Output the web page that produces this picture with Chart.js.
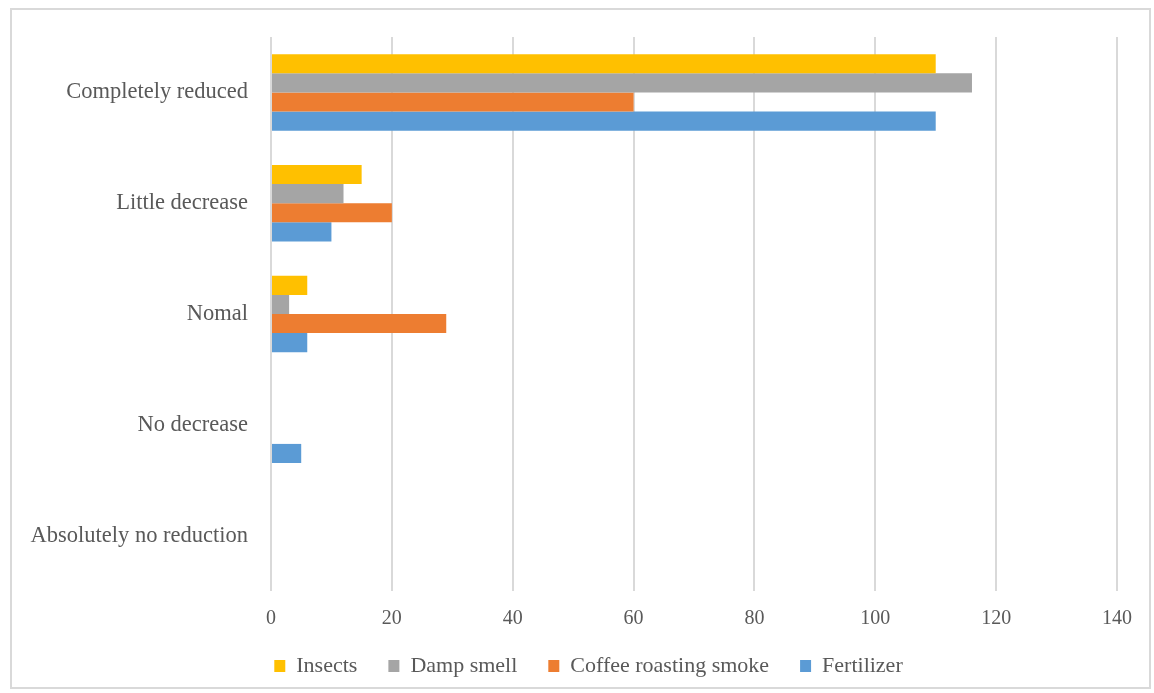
<!DOCTYPE html>
<html>
<head>
<meta charset="utf-8">
<script src="https://cdn.jsdelivr.net/npm/chart.js@4/dist/chart.umd.min.js"></script>
<style>
  html, body { margin: 0; padding: 0; background: #fff; }
  #wrap { position: relative; width: 1154px; height: 693px; }
  #frame { position: absolute; left: 10px; top: 8px; width: 1141px; height: 681px; border: 2px solid #d9d9d9; box-sizing: border-box; pointer-events: none; }
  canvas { position: absolute; left: 0; top: 0; }
</style>
</head>
<body>
<div id="wrap">
  <canvas id="c" width="1154" height="693"></canvas>
  <div id="frame"></div>
</div>
<script>
const categories = ["Completely reduced", "Little decrease", "Nomal", "No decrease", "Absolutely no reduction"];
const seriesNames = ["Insects", "Damp smell", "Coffee roasting smoke", "Fertilizer"];
const insects = [110, 15, 6, 0, 0];
const dampSmell = [116, 12, 3, 0, 0];
const coffeeSmoke = [60, 20, 29, 0, 0];
const fertilizer = [110, 10, 6, 5, 0];
const xTicks = [0, 20, 40, 60, 80, 100, 120, 140];

const colors = ["#FFC000", "#A5A5A5", "#ED7D31", "#5B9BD5"];
const values = [insects, dampSmell, coffeeSmoke, fertilizer];
const fontFamily = "'Liberation Serif', 'Times New Roman', serif";

const shiftLegend = {
  id: 'shiftLegend',
  afterLayout(chart) {
    const lg = chart.legend;
    if (lg) { lg.left += 30; lg.right += 30; }
  }
};

new Chart(document.getElementById('c'), {
  type: 'bar',
  data: {
    labels: categories,
    datasets: seriesNames.map((n, i) => ({
      label: n,
      data: values[i],
      backgroundColor: colors[i],
      borderWidth: 0,
      categoryPercentage: 0.69,
      barPercentage: 1.0
    }))
  },
  options: {
    indexAxis: 'y',
    responsive: false,
    animation: false,
    layout: { padding: { left: 0, right: 37, top: 37, bottom: 6 } },
    plugins: {
      legend: {
        position: 'bottom',
        labels: {
          boxWidth: 11,
          boxHeight: 12,
          padding: 31,
          color: '#595959',
          font: { family: fontFamily, size: 22 }
        }
      },
      tooltip: { enabled: false }
    },
    scales: {
      x: {
        min: 0,
        max: 140,
        afterBuildTicks: s => { s.ticks = xTicks.map(v => ({ value: v })); },
        afterFit: s => { s.height = 33; },
        grid: { color: '#d9d9d9', lineWidth: 2, drawTicks: false },
        border: { display: false },
        ticks: { color: '#595959', padding: 16, font: { family: fontFamily, size: 20 } }
      },
      y: {
        afterFit: s => { s.width = 271; },
        grid: { display: false, drawTicks: false },
        border: { display: false },
        ticks: { color: '#595959', padding: 23, font: { family: fontFamily, size: 22.5 } }
      }
    }
  },
  plugins: [shiftLegend]
});
</script>
</body>
</html>
